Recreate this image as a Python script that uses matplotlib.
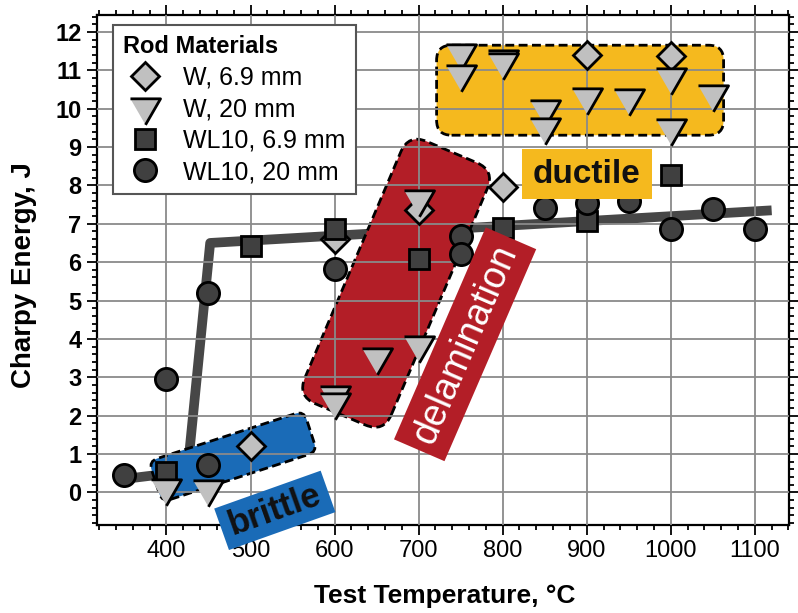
import matplotlib
matplotlib.use('Agg')
import matplotlib.pyplot as plt
from matplotlib.patches import FancyBboxPatch
from matplotlib.transforms import Affine2D, ScaledTranslation
from matplotlib.ticker import MultipleLocator

plt.rcParams['font.family'] = ['Liberation Sans', 'DejaVu Sans']

# ---------------- data ----------------
W69_T = [500, 600, 700, 800, 900, 1000]
W69_E = [1.2, 6.6, 7.35, 7.95, 11.4, 11.38]

W20_T = [400, 450, 600, 600, 650, 700, 700, 750, 750, 800, 800,
         850, 850, 900, 950, 1000, 1000, 1050]
W20_E = [0.12, 0.08, 2.55, 2.35, 3.52, 3.84, 7.64, 11.45, 10.9, 11.3, 11.21,
         10.0, 9.52, 10.3, 10.28, 10.82, 9.5, 10.39]

WL69_T = [400, 500, 600, 700, 800, 900, 1000]
WL69_E = [0.52, 6.42, 6.86, 6.08, 6.9, 7.07, 8.28]

WL20_T = [350, 400, 450, 450, 600, 750, 750, 850, 900, 950, 1000, 1050, 1100]
WL20_E = [0.45, 2.95, 5.2, 0.72, 5.82, 6.68, 6.2, 7.42, 7.55, 7.6, 6.86, 7.38, 6.86]

FIT_T = [350, 425, 452, 1120]
FIT_E = [0.35, 0.55, 6.5, 7.35]

series_labels = ['W, 6.9 mm', 'W, 20 mm', 'WL10, 6.9 mm', 'WL10, 20 mm']
legend_title = 'Rod Materials'
x_label = 'Test Temperature, °C'
y_label = 'Charpy Energy, J'

# ---------------- figure ----------------
fig = plt.figure(figsize=(7.98, 6.13), dpi=100)
ax = fig.add_axes([96.7 / 798, 1 - 525 / 613, 692.6 / 798, 510 / 613])
ax.set_xlim(317, 1141)
ax.set_ylim(-0.85, 12.44)

# fit line (under the regions)
ax.plot(FIT_T, FIT_E, color='#474747', lw=7, solid_joinstyle='round',
        solid_capstyle='butt', zorder=1)


def rbox(cx, cy, w, h, ang, r, z, clip=True, **kw):
    tr = (Affine2D().rotate_deg(ang).scale(fig.dpi / 100.0)
          + ScaledTranslation(cx, cy, ax.transData))
    style = f"round,pad=0,rounding_size={r}" if r > 0 else "square,pad=0"
    p = FancyBboxPatch((-w / 2, -h / 2), w, h, boxstyle=style,
                       transform=tr, zorder=z, **kw)
    p.set_clip_on(clip)
    ax.add_patch(p)
    return p


RED = '#B31E27'
YEL = '#F5B91E'
BLU = '#1A6BB7'
dash = (0, (3.2, 1.6))

# regions (dashed outline)
rbox(673.2, 5.45, 285, 94, 67, 20, 1.2, facecolor=RED, edgecolor='black',
     lw=2, linestyle=dash)
rbox(892.1, 10.48, 287, 90, 0, 15, 1.2, facecolor=YEL, edgecolor='black',
     lw=2, linestyle=dash)
rbox(479.1, 0.935, 163, 43, 18, 9, 1.2, facecolor=BLU, edgecolor='black',
     lw=2, linestyle=dash)

# markers
tri = [(-1, 0.577), (1, 0.577), (0, -1.155)]
ax.plot(W69_T, W69_E, ls='none', marker='D', ms=14, mfc='#c0c0c0', mec='black',
        mew=2, zorder=3, label=series_labels[0])
ax.plot(W20_T, W20_E, ls='none', marker=tri, ms=25, mfc='#c0c0c0', mec='black',
        mew=2, zorder=3.4, label=series_labels[1])
ax.plot(WL69_T, WL69_E, ls='none', marker='s', ms=14, mfc='#404040', mec='black',
        mew=2, zorder=3.2, label=series_labels[2])
ax.plot(WL20_T, WL20_E, ls='none', marker='o', ms=16, mfc='#404040', mec='black',
        mew=2, zorder=3.3, label=series_labels[3])

# label boxes (above markers)
rbox(755.3, 3.86, 231, 55, 66.6, 0, 6, facecolor=RED, edgecolor='none')
ax.text(755.3, 3.86, 'delamination', rotation=66.6, rotation_mode='anchor',
        ha='center', va='center', fontsize=27, color='white', zorder=7)
rbox(900.1, 8.29, 130, 50, 0, 0, 6, facecolor=YEL, edgecolor='none')
ax.text(900.1, 8.29, 'ductile', ha='center', va='center', fontsize=24,
        fontweight='bold', color='#111111', zorder=7)
rbox(528.9, -0.468, 113, 44, 19.6, 0, 6, clip=False, facecolor=BLU,
     edgecolor='none')
t = ax.text(528.9, -0.468, 'brittle', rotation=19.6, rotation_mode='anchor',
            ha='center', va='center', fontsize=25, fontweight='bold',
            color='#111111', zorder=7)
t.set_clip_on(False)

# axes styling
ax.xaxis.set_major_locator(MultipleLocator(100))
ax.xaxis.set_minor_locator(MultipleLocator(20))
ax.yaxis.set_major_locator(MultipleLocator(1))
ax.yaxis.set_minor_locator(MultipleLocator(0.2))
ax.set_axisbelow(False)
ax.grid(which='major', color='#8a8a8a', lw=1.3)
ax.tick_params(which='both', direction='out', top=True, right=True,
               color='black', width=1.3)
ax.tick_params(which='major', length=7, labelsize=17, pad=4)
ax.tick_params(which='minor', length=3.5)
for s in ax.spines.values():
    s.set_linewidth(1.6)
    s.set_color('black')
for lbl in ax.get_yticklabels():
    lbl.set_fontweight('bold')

ax.set_xlabel(x_label, fontsize=19, fontweight='bold')
ax.xaxis.set_label_coords(0.503, -0.14)
ax.xaxis.label.set_verticalalignment('center')
ax.set_ylabel(y_label, fontsize=20, fontweight='bold')
ax.yaxis.set_label_coords(-0.105, 0.491)
ax.yaxis.label.set_verticalalignment('center')

leg = ax.legend(loc='upper left', bbox_to_anchor=(0.024, 0.98), title=legend_title,
                title_fontproperties={'weight': 'bold', 'size': 17},
                fontsize=18, frameon=True, fancybox=False, edgecolor='#555555',
                framealpha=1, borderaxespad=0, handlelength=1.7,
                handletextpad=0.7, labelspacing=0.3, borderpad=0.4,
                alignment='left')
leg.get_frame().set_linewidth(1.5)
leg.set_zorder(8)

fig.savefig('out.png', dpi=100)
